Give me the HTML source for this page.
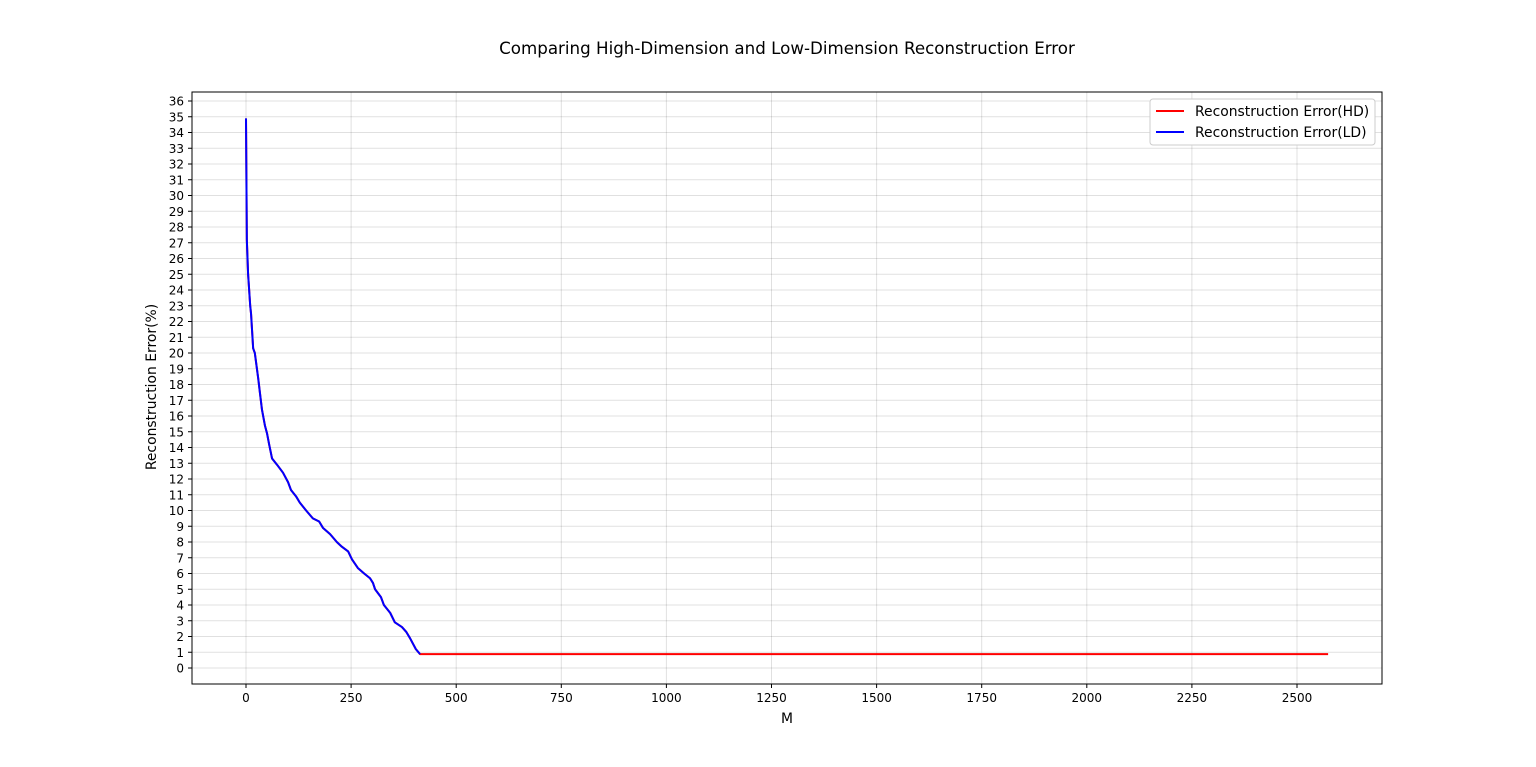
<!DOCTYPE html>
<html><head><meta charset="utf-8"><style>
body{margin:0;background:#fff}
svg{display:block;font-family:"DejaVu Sans","Liberation Sans",sans-serif}
</style></head><body>
<svg id="chart" width="1536" height="767">
<text x="787" y="54" text-anchor="middle" font-size="16.7">Comparing High-Dimension and Low-Dimension Reconstruction Error</text>
<g id="grid"></g><g id="ticks"></g><g id="lines"></g>
<rect x="192" y="92" width="1190" height="592" fill="none" stroke="#000" stroke-width="1"/>
<text x="787" y="723" text-anchor="middle" font-size="13.9">M</text>
<text transform="translate(156,387) rotate(-90)" text-anchor="middle" font-size="13.9">Reconstruction Error(%)</text>
<g>
<rect x="1150" y="99" width="225" height="46" rx="3" fill="#fff" stroke="#ccc"/>
<line x1="1156" y1="111" x2="1184" y2="111" stroke="red" stroke-width="2"/>
<text x="1195" y="116" font-size="13.9">Reconstruction Error(HD)</text>
<line x1="1156" y1="132" x2="1184" y2="132" stroke="blue" stroke-width="2"/>
<text x="1195" y="137" font-size="13.9">Reconstruction Error(LD)</text>
</g>
</svg>
<script>
const ldM=[0,2,5,10,12,17,21,29,33,38,45,50,55,62,74,88,100,107,119,128,143,159,174,183,200,216,228,243,252,266,281,295,302,307,321,328,343,354,371,381,390,404,414];
const ldErr=[34.9,27.2,25,23,22.5,20.3,20,18.4,17.5,16.4,15.4,14.9,14.2,13.3,12.9,12.4,11.8,11.3,10.9,10.5,10.0,9.5,9.3,8.9,8.5,8.0,7.7,7.4,6.9,6.35,6.0,5.7,5.4,5.0,4.5,4.0,3.5,2.9,2.6,2.3,1.9,1.2,0.88];
const hdM=ldM.concat([2574]);
const hdErr=ldErr.concat([0.88]);
const xTicks=[0,250,500,750,1000,1250,1500,1750,2000,2250,2500];
const yTicks=Array.from({length:37},(_,i)=>i);
const NS="http://www.w3.org/2000/svg";
const X=v=>246+v*(1297-246)/2500;
const Y=v=>668-v*(668-101)/36;
function mk(tag,attrs,parent){const e=document.createElementNS(NS,tag);for(const k in attrs)e.setAttribute(k,attrs[k]);parent.appendChild(e);return e;}
const grid=document.getElementById('grid'),ticks=document.getElementById('ticks'),lines=document.getElementById('lines');
xTicks.forEach(t=>{
 const g=mk('line',{x1:X(t),x2:X(t),y1:92,y2:684,stroke:'#000','stroke-opacity':0.12},grid);
 
 
 mk('line',{x1:X(t),x2:X(t),y1:684,y2:688,stroke:'#000'},ticks);
 const tx=mk('text',{x:X(t),y:702,'text-anchor':'middle','font-size':12},ticks);tx.textContent=t;
 
 
});
yTicks.forEach(t=>{
 const g=mk('line',{x1:192,x2:1382,y1:Y(t),y2:Y(t),stroke:'#000','stroke-opacity':0.12},grid);
 
 
 mk('line',{x1:188,x2:192,y1:Y(t),y2:Y(t),stroke:'#000'},ticks);
 const tx=mk('text',{x:184,y:Y(t)+4.5,'text-anchor':'end','font-size':12},ticks);tx.textContent=t;
 
 
});
function series(xs,ys,color,name){
 const p=mk('polyline',{points:xs.map((x,i)=>X(x)+','+Y(ys[i])).join(' '),fill:'none',stroke:color,'stroke-width':2,'stroke-linejoin':'round'},lines);
 
 
}
series(hdM,hdErr,'red','hd-error-line');
series(ldM,ldErr,'blue','ld-error-line');
</script>
</body></html>
